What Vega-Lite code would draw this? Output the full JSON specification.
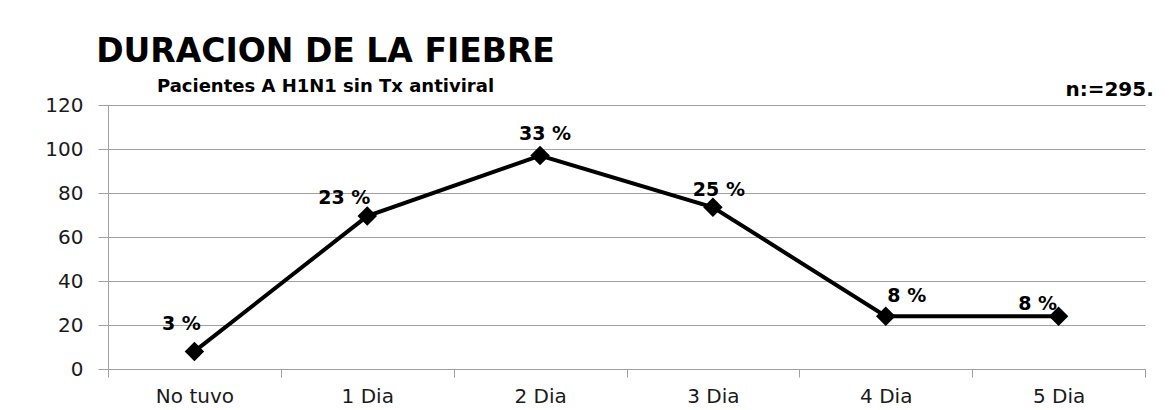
{
  "$schema": "https://vega.github.io/schema/vega-lite/v6.json",
  "width": 1037,
  "height": 264,
  "autosize": {"type": "none"},
  "padding": {"left": 108, "top": 105, "right": 24, "bottom": 41},
  "background": "white",
  "title": {
    "text": "DURACION DE LA FIEBRE",
    "subtitle": "Pacientes A H1N1 sin  Tx antiviral",
    "anchor": "middle",
    "dx": -301,
    "offset": -16,
    "font": "DejaVu Sans",
    "fontSize": 33,
    "fontWeight": "bold",
    "color": "#000000",
    "subtitleFont": "DejaVu Sans",
    "subtitleFontSize": 18,
    "subtitleFontWeight": "bold",
    "subtitleColor": "#000000",
    "subtitlePadding": 9
  },
  "datasets": {
    "fiebre": [
      {"duracion": "No  tuvo", "pacientes": 8, "pct": "3 %"},
      {"duracion": "1 Dia", "pacientes": 69.5, "pct": "23 %"},
      {"duracion": "2 Dia", "pacientes": 97, "pct": "33 %"},
      {"duracion": "3 Dia", "pacientes": 73.5, "pct": "25 %"},
      {"duracion": "4 Dia", "pacientes": 24, "pct": "8 %"},
      {"duracion": "5 Dia", "pacientes": 24, "pct": "8 %"}
    ],
    "nota": [
      {"duracion": "5 Dia", "pacientes": 120, "texto": "n:=295."}
    ]
  },
  "data": {"name": "fiebre"},
  "encoding": {
    "x": {
      "field": "duracion",
      "type": "nominal",
      "sort": null,
      "scale": {"paddingInner": 0, "paddingOuter": 0},
      "axis": {
        "title": null,
        "labelAngle": 0,
        "labelFont": "DejaVu Sans",
        "labelFontSize": 20,
        "labelColor": "#1a1a1a",
        "labelPadding": 9,
        "tickBand": "extent",
        "tickSize": 8,
        "tickColor": "#a0a0a0",
        "domainColor": "#a0a0a0",
        "grid": false
      }
    },
    "y": {
      "field": "pacientes",
      "type": "quantitative",
      "scale": {"domain": [0, 120]},
      "axis": {
        "title": null,
        "values": [0, 20, 40, 60, 80, 100, 120],
        "labelFont": "DejaVu Sans",
        "labelFontSize": 20,
        "labelColor": "#1a1a1a",
        "labelPadding": 15,
        "tickSize": 10,
        "tickColor": "#a0a0a0",
        "domainColor": "#a0a0a0",
        "gridColor": "#a0a0a0",
        "gridOpacity": 1
      }
    }
  },
  "layer": [
    {
      "mark": {"type": "line", "color": "#000000", "strokeWidth": 4}
    },
    {
      "mark": {"type": "point", "shape": "diamond", "filled": true, "color": "#000000", "opacity": 1, "size": 380}
    },
    {
      "transform": [{"filter": "datum.duracion === 'No  tuvo'"}],
      "mark": {"type": "text", "font": "DejaVu Sans", "fontSize": 19, "fontWeight": "bold", "color": "#000000", "dx": -13, "dy": -27},
      "encoding": {"text": {"field": "pct"}}
    },
    {
      "transform": [{"filter": "datum.duracion === '1 Dia'"}],
      "mark": {"type": "text", "font": "DejaVu Sans", "fontSize": 19, "fontWeight": "bold", "color": "#000000", "dx": -23, "dy": -18},
      "encoding": {"text": {"field": "pct"}}
    },
    {
      "transform": [{"filter": "datum.duracion === '2 Dia'"}],
      "mark": {"type": "text", "font": "DejaVu Sans", "fontSize": 19, "fontWeight": "bold", "color": "#000000", "dx": 5, "dy": -22},
      "encoding": {"text": {"field": "pct"}}
    },
    {
      "transform": [{"filter": "datum.duracion === '3 Dia'"}],
      "mark": {"type": "text", "font": "DejaVu Sans", "fontSize": 19, "fontWeight": "bold", "color": "#000000", "dx": 6, "dy": -17},
      "encoding": {"text": {"field": "pct"}}
    },
    {
      "transform": [{"filter": "datum.duracion === '4 Dia'"}],
      "mark": {"type": "text", "font": "DejaVu Sans", "fontSize": 19, "fontWeight": "bold", "color": "#000000", "dx": 21, "dy": -20},
      "encoding": {"text": {"field": "pct"}}
    },
    {
      "transform": [{"filter": "datum.duracion === '5 Dia'"}],
      "mark": {"type": "text", "font": "DejaVu Sans", "fontSize": 19, "fontWeight": "bold", "color": "#000000", "dx": -21, "dy": -12},
      "encoding": {"text": {"field": "pct"}}
    },
    {
      "data": {"name": "nota"},
      "mark": {"type": "text", "font": "DejaVu Sans", "fontSize": 20, "fontWeight": "bold", "color": "#000000", "dx": 51, "dy": -15},
      "encoding": {"text": {"field": "texto"}}
    }
  ],
  "config": {
    "view": {"stroke": null}
  }
}
